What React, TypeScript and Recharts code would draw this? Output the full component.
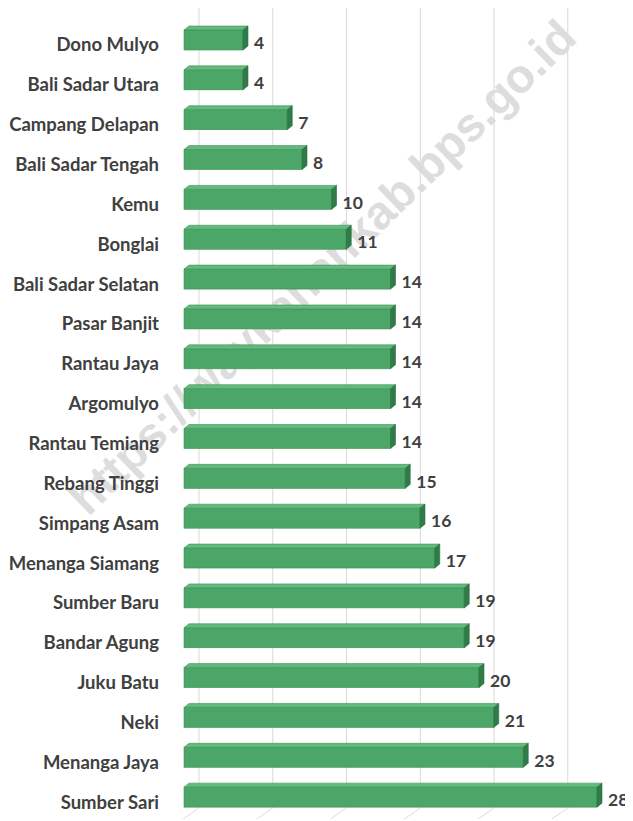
import React from 'react';
import { BarChart, Bar, XAxis, YAxis, CartesianGrid, LabelList } from 'recharts';

const categories = [
  'Dono Mulyo', 'Bali Sadar Utara', 'Campang Delapan', 'Bali Sadar Tengah', 'Kemu',
  'Bonglai', 'Bali Sadar Selatan', 'Pasar Banjit', 'Rantau Jaya', 'Argomulyo',
  'Rantau Temiang', 'Rebang Tinggi', 'Simpang Asam', 'Menanga Siamang', 'Sumber Baru',
  'Bandar Agung', 'Juku Batu', 'Neki', 'Menanga Jaya', 'Sumber Sari',
];
const values = [4, 4, 7, 8, 10, 11, 14, 14, 14, 14, 14, 15, 16, 17, 19, 19, 20, 21, 23, 28];
const gridTicks = [0, 5, 10, 15, 20, 25, 30];
const xDomain = [0, 30];
const watermark = 'https://waykanankab.bps.go.id';

const data = categories.map((name, i) => ({ name, value: values[i] }));

const FONT = 'Lato, "Open Sans", "DejaVu Sans", sans-serif';
const DEPTH_X = 5;
const DEPTH_Y = 4;
const WALL_X = 15;

const Bar3D = (props: any) => {
  const { x, y, width, height } = props;
  if (width == null || width <= 0) return null;
  const w = width;
  const h = height;
  const top = `M${x},${y} L${x + DEPTH_X},${y - DEPTH_Y} L${x + w + DEPTH_X},${y - DEPTH_Y} L${x + w},${y} Z`;
  const side = `M${x + w},${y} L${x + w + DEPTH_X},${y - DEPTH_Y} L${x + w + DEPTH_X},${y + h - DEPTH_Y} L${x + w},${y + h} Z`;
  return (
    <g>
      <rect x={x} y={y} width={w} height={h} fill="#4ca667" stroke="#3f9159" strokeWidth={0.6} />
      <path d={top} fill="#62ba7c" stroke="#3f9159" strokeWidth={0.6} />
      <path d={side} fill="#2f7c49" stroke="#2a6e41" strokeWidth={0.6} />
    </g>
  );
};

const CategoryTick = (props: any) => {
  const { y, payload } = props;
  return (
    <text
      x={151}
      y={y + 5}
      dy="0.355em"
      textAnchor="end"
      fontFamily={FONT}
      fontWeight={700}
      fontSize={18.5}
      fill="#404040"
    >
      {payload.value}
    </text>
  );
};

const ValueLabel = (props: any) => {
  const { x, y, width, height, value } = props;
  return (
    <text
      x={x + width + 11}
      y={y + height / 2 + 3}
      dy="0.355em"
      textAnchor="start"
      fontFamily={FONT}
      fontWeight={700}
      fontSize={17.5}
      fill="#404040"
    >
      {value}
    </text>
  );
};

const GridLine = (props: any) => {
  const { x1, y1, y2, key } = props;
  const bottom = y2 - 9;
  return (
    <g key={key}>
      <line x1={x1} y1={y1 - 15} x2={x1} y2={bottom} stroke="#d9d9d9" strokeWidth={1} />
      <line x1={x1} y1={bottom} x2={x1 - 16} y2={bottom + 11} stroke="#dcdcdc" strokeWidth={1} />
    </g>
  );
};

const verticalCoords = (p: any) => {
  const { xAxis, offset } = p || {};
  return gridTicks.map((t) => {
    if (xAxis && typeof xAxis.scale === 'function') {
      return xAxis.scale(t) + WALL_X;
    }
    return offset.left + ((t - xDomain[0]) / (xDomain[1] - xDomain[0])) * offset.width + WALL_X;
  });
};

export default function App() {
  return (
    <div style={{ position: 'relative', width: 625, height: 813 }}>
      <div
        style={{
          position: 'absolute',
          left: 314,
          top: 259,
          transform: 'translate(-50%, -50%) rotate(-44.2deg)',
          whiteSpace: 'nowrap',
          fontFamily: '"Liberation Sans", Arial, sans-serif',
          fontWeight: 700,
          fontSize: 47,
          color: '#dddddd',
        }}
      >
        {watermark}
      </div>
      <BarChart
        width={625}
        height={813}
        data={data}
        layout="vertical"
        margin={{ top: 12, right: 6.5, bottom: 4, left: 0 }}
        barCategoryGap={0}
      >
        <CartesianGrid
          horizontal={false}
          vertical={GridLine}
          verticalCoordinatesGenerator={verticalCoords}
        />
        <XAxis type="number" domain={xDomain} ticks={gridTicks} hide />
        <YAxis
          type="category"
          dataKey="name"
          width={176}
          axisLine={false}
          tickLine={false}
          interval={0}
          tick={<CategoryTick />}
        />
        <Bar dataKey="value" barSize={20} shape={<Bar3D />} isAnimationActive={false}>
          <LabelList dataKey="value" content={<ValueLabel />} />
        </Bar>
      </BarChart>
    </div>
  );
}
